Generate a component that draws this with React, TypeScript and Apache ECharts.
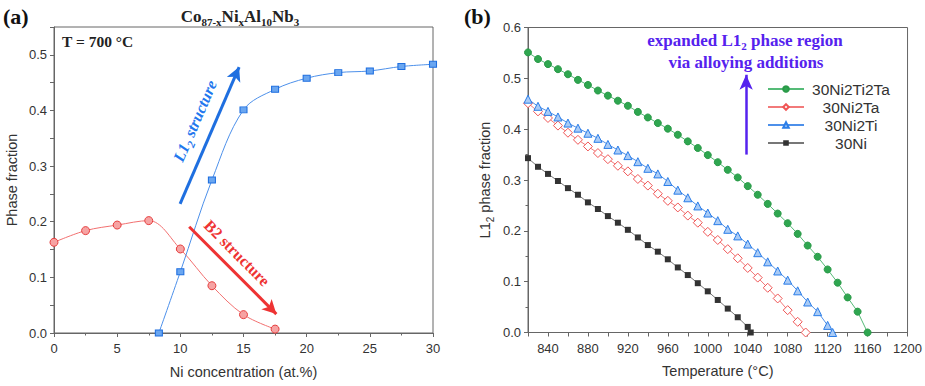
import React, { useEffect, useRef } from 'react';
import * as echarts from 'echarts';

// ---- Panel (a): Co87-xNixAl10Nb3 at 700 °C ----
const b2NiConcentration = [0, 2.5, 5, 7.5, 10, 12.5, 15, 17.5];
const b2Fraction = [0.163, 0.184, 0.194, 0.202, 0.151, 0.085, 0.033, 0.007];
const l12NiConcentration = [8.3, 10, 12.5, 15, 17.5, 20, 22.5, 25, 27.5, 30];
const l12Fraction = [0, 0.11, 0.275, 0.401, 0.438, 0.458, 0.468, 0.471, 0.479, 0.483];

// ---- Panel (b): L12 phase fraction vs temperature ----
const temp2Ti2Ta = [820, 830, 840, 850, 860, 870, 880, 890, 900, 910, 920, 930, 940, 950, 960, 970, 980, 990, 1000, 1010, 1020, 1030, 1040, 1050, 1060, 1070, 1080, 1090, 1100, 1110, 1120, 1130, 1140, 1150, 1160];
const frac2Ti2Ta = [0.551, 0.538, 0.528, 0.518, 0.508, 0.497, 0.487, 0.476, 0.466, 0.456, 0.446, 0.434, 0.423, 0.412, 0.401, 0.389, 0.376, 0.363, 0.349, 0.335, 0.32, 0.305, 0.288, 0.271, 0.253, 0.234, 0.215, 0.194, 0.171, 0.149, 0.124, 0.098, 0.069, 0.041, 0.0];

const temp2Ta = [820, 830, 840, 850, 860, 870, 880, 890, 900, 910, 920, 930, 940, 950, 960, 970, 980, 990, 1000, 1010, 1020, 1030, 1040, 1050, 1060, 1070, 1080, 1090, 1098];
const frac2Ta = [0.451, 0.435, 0.422, 0.407, 0.393, 0.379, 0.366, 0.353, 0.341, 0.328, 0.317, 0.302, 0.289, 0.273, 0.259, 0.246, 0.23, 0.216, 0.198, 0.182, 0.164, 0.146, 0.127, 0.108, 0.088, 0.067, 0.044, 0.021, 0.0];

const temp2Ti = [820, 830, 840, 850, 860, 870, 880, 890, 900, 910, 920, 930, 940, 950, 960, 970, 980, 990, 1000, 1010, 1020, 1030, 1040, 1050, 1060, 1070, 1080, 1090, 1100, 1110, 1120, 1125];
const frac2Ti = [0.459, 0.445, 0.435, 0.424, 0.412, 0.402, 0.392, 0.382, 0.37, 0.359, 0.348, 0.336, 0.323, 0.312, 0.297, 0.28, 0.265, 0.249, 0.235, 0.22, 0.203, 0.19, 0.174, 0.157, 0.139, 0.121, 0.103, 0.082, 0.06, 0.041, 0.014, 0.0];

const tempNi = [820, 830, 840, 850, 860, 870, 880, 890, 900, 910, 920, 930, 940, 950, 960, 970, 980, 990, 1000, 1010, 1020, 1030, 1040, 1043];
const fracNi = [0.343, 0.326, 0.312, 0.298, 0.284, 0.271, 0.256, 0.243, 0.229, 0.216, 0.202, 0.187, 0.172, 0.159, 0.144, 0.128, 0.113, 0.097, 0.081, 0.064, 0.047, 0.03, 0.011, 0.0];

const legendNames = ['30Ni2Ti2Ta', '30Ni2Ta', '30Ni2Ti', '30Ni'];

const zip = (xs: number[], ys: number[]) => xs.map((x, i) => [x, ys[i]]);

const SANS = '"Liberation Sans", Arial, sans-serif';
const SERIF = '"Liberation Serif", "Times New Roman", serif';
const AXIS_COLOR = '#666';
const LABEL_COLOR = '#333';

const fmtTenth = (v: number) => {
  const r = Math.round(v * 10);
  return Math.abs(v * 10 - r) < 1e-6 ? (r / 10).toFixed(1) : '';
};

const subRich = (size: number, color: string, weight: string, style: string, family: string) => ({
  a: { fontSize: size, lineHeight: size + 6, verticalAlign: 'middle', color, fill: color, fontWeight: weight, fontStyle: style, fontFamily: family },
  s: { fontSize: Math.round(size * 0.66), lineHeight: Math.round(size * 0.66), verticalAlign: 'bottom', color, fill: color, fontWeight: weight, fontStyle: style, fontFamily: family },
});

const axisCommon = {
  axisLine: { show: true, lineStyle: { color: AXIS_COLOR, width: 1 } },
  axisTick: { show: true, inside: false, length: 4, lineStyle: { color: AXIS_COLOR } },
  minorTick: { show: false },
  splitLine: { show: false },
  minorSplitLine: { show: false },
};

const minorTicks = { show: true, splitNumber: 2, length: 2.5, lineStyle: { color: AXIS_COLOR } };

export default function App() {
  const ref = useRef<HTMLDivElement>(null);

  useEffect(() => {
    if (!ref.current) return;
    const chart = echarts.init(ref.current, undefined, { renderer: 'svg' });

    const option: any = {
      animation: false,
      backgroundColor: '#ffffff',
      textStyle: { fontFamily: SANS },
      grid: [
        { left: 54, right: 492, top: 27, bottom: 53, show: true, borderColor: AXIS_COLOR, borderWidth: 1, backgroundColor: 'transparent' },
        { left: 528, right: 17, top: 27.5, bottom: 53.5, show: true, borderColor: AXIS_COLOR, borderWidth: 1, backgroundColor: 'transparent' },
      ],
      xAxis: [
        {
          ...axisCommon,
          type: 'value', gridIndex: 0, min: 0, max: 30, interval: 5,
          minorTick: minorTicks,
          axisLabel: { margin: 9, fontSize: 13, color: LABEL_COLOR, fontFamily: SANS },
          name: 'Ni concentration (at.%)', nameLocation: 'middle', nameGap: 31,
          nameTextStyle: { fontSize: 14.5, color: LABEL_COLOR, fontFamily: SANS },
        },
        {
          ...axisCommon,
          type: 'value', gridIndex: 1, min: 820, max: 1200, interval: 20,
          axisLabel: { margin: 9, fontSize: 13, color: LABEL_COLOR, fontFamily: SANS, formatter: (v: number) => (v % 40 === 0 ? String(v) : '') },
          name: 'Temperature (°C)', nameLocation: 'middle', nameGap: 31,
          nameTextStyle: { fontSize: 14.5, color: LABEL_COLOR, fontFamily: SANS },
        },
      ],
      yAxis: [
        {
          ...axisCommon,
          type: 'value', gridIndex: 0, min: 0, max: 0.55, interval: 0.05,
          axisLabel: { margin: 7, fontSize: 13, color: LABEL_COLOR, fontFamily: SANS, formatter: fmtTenth },
          name: 'Phase fraction', nameLocation: 'middle', nameGap: 35,
          nameTextStyle: { fontSize: 14.5, color: LABEL_COLOR, fontFamily: SANS },
        },
        {
          ...axisCommon,
          type: 'value', gridIndex: 1, min: 0, max: 0.6, interval: 0.1,
          minorTick: minorTicks,
          axisLabel: { margin: 7, fontSize: 13, color: LABEL_COLOR, fontFamily: SANS, formatter: (v: number) => v.toFixed(1) },
          name: '{a|L1}{s|2}{a| phase fraction}', nameLocation: 'middle', nameGap: 33,
          nameTextStyle: { rich: subRich(14.5, LABEL_COLOR, 'normal', 'normal', SANS) },
        },
      ],
      legend: {
        data: legendNames,
        left: 762, top: 76,
        orient: 'vertical',
        itemWidth: 36, itemHeight: 7, itemGap: 2,
        formatter: (name: string) => `{c|${name}}`,
        textStyle: { rich: { c: { width: 84, lineHeight: 16, align: 'center', fontSize: 15.5, color: LABEL_COLOR, fontFamily: SANS } } },
      },
      series: [
        {
          type: 'line', name: 'B2', xAxisIndex: 0, yAxisIndex: 0,
          data: zip(b2NiConcentration, b2Fraction),
          smooth: 0.35, symbol: 'circle', symbolSize: 8,
          lineStyle: { color: '#f27070', width: 1 },
          itemStyle: { color: '#f6a3a3', borderColor: '#e63d3d', borderWidth: 1 },
          markLine: {
            silent: true, symbol: ['none', 'arrow'], symbolSize: [11, 14],
            label: { show: false },
            lineStyle: { color: '#ee3333', width: 3, type: 'solid' },
            data: [[{ coord: [10.7, 0.191] }, { coord: [17.6, 0.034] }]],
          },
        },
        {
          type: 'line', name: 'L12', xAxisIndex: 0, yAxisIndex: 0,
          data: zip(l12NiConcentration, l12Fraction),
          smooth: 0.35, symbol: 'rect', symbolSize: [7, 6],
          lineStyle: { color: '#4d90ea', width: 1 },
          itemStyle: { color: '#6aa6f0', borderColor: '#1f6fe0', borderWidth: 1 },
          markLine: {
            silent: true, symbol: ['none', 'arrow'], symbolSize: [11, 14],
            label: { show: false },
            lineStyle: { color: '#1f6fe0', width: 3, type: 'solid' },
            data: [[{ coord: [9.98, 0.232] }, { coord: [14.65, 0.478] }]],
          },
        },
        {
          type: 'line', name: '30Ni2Ti2Ta', xAxisIndex: 1, yAxisIndex: 1,
          data: zip(temp2Ti2Ta, frac2Ti2Ta),
          symbol: 'circle', symbolSize: 7,
          lineStyle: { color: '#55bb77', width: 1 },
          itemStyle: { color: '#2fa650', borderColor: '#2a9a48', borderWidth: 1 },
          markLine: {
            silent: true, symbol: ['none', 'arrow'], symbolSize: [10, 15],
            label: { show: false },
            lineStyle: { color: '#5522ee', width: 2.5, type: 'solid' },
            data: [[{ coord: [1038.4, 0.35] }, { coord: [1038.4, 0.507] }]],
          },
        },
        {
          type: 'line', name: '30Ni2Ta', xAxisIndex: 1, yAxisIndex: 1,
          data: zip(temp2Ta, frac2Ta),
          symbol: 'diamond', symbolSize: 9,
          lineStyle: { color: '#f27a7a', width: 1 },
          itemStyle: { color: '#ffffff', borderColor: '#f05555', borderWidth: 1 },
        },
        {
          type: 'line', name: '30Ni2Ti', xAxisIndex: 1, yAxisIndex: 1,
          data: zip(temp2Ti, frac2Ti),
          symbol: 'triangle', symbolSize: 8,
          lineStyle: { color: '#4d90ea', width: 1 },
          itemStyle: { color: '#a9cbf6', borderColor: '#2a7de8', borderWidth: 1 },
        },
        {
          type: 'line', name: '30Ni', xAxisIndex: 1, yAxisIndex: 1,
          data: zip(tempNi, fracNi),
          symbol: 'rect', symbolSize: 6,
          lineStyle: { color: '#777777', width: 1 },
          itemStyle: { color: '#333333', borderColor: '#333333', borderWidth: 0 },
        },
      ],
      graphic: [
        { type: 'text', x: 3, y: 16, style: { text: '(a)', font: `bold 22px ${SERIF}`, fill: '#111', verticalAlign: 'middle' } },
        { type: 'text', x: 464, y: 16, style: { text: '(b)', font: `bold 22px ${SERIF}`, fill: '#111', verticalAlign: 'middle' } },
        {
          type: 'text', x: 240, y: 16,
          style: { text: '{a|Co}{s|87-x}{a|Ni}{s|x}{a|Al}{s|10}{a|Nb}{s|3}', align: 'center', verticalAlign: 'middle', rich: subRich(17, '#222', 'bold', 'normal', SERIF) },
        },
        { type: 'text', x: 62, y: 41, style: { text: 'T = 700 °C', font: `bold 15.5px ${SERIF}`, fill: '#222', verticalAlign: 'middle' } },
        {
          type: 'text', x: 195, y: 121, rotation: (66.7 * Math.PI) / 180,
          style: { text: '{a|L1}{s|2}{a| structure}', align: 'center', verticalAlign: 'middle', rich: subRich(16, '#2277ee', 'bold', 'italic', SERIF) },
        },
        {
          type: 'text', x: 237, y: 253, rotation: (-45.2 * Math.PI) / 180,
          style: { text: 'B2 structure', align: 'center', verticalAlign: 'middle', font: `bold 16px ${SERIF}`, fill: '#ee3333' },
        },
        {
          type: 'text', x: 745, y: 40,
          style: { text: '{a|expanded L1}{s|2}{a| phase region}', align: 'center', verticalAlign: 'middle', rich: subRich(17, '#5522ee', 'bold', 'normal', SERIF) },
        },
        { type: 'text', x: 746, y: 62, style: { text: 'via alloying additions', align: 'center', verticalAlign: 'middle', font: `bold 17px ${SERIF}`, fill: '#5522ee' } },
      ],
    };

    chart.setOption(option);
    return () => chart.dispose();
  }, []);

  return <div ref={ref} style={{ position: 'fixed', left: 0, top: 0, width: 925, height: 386, background: '#fff' }} />;
}
